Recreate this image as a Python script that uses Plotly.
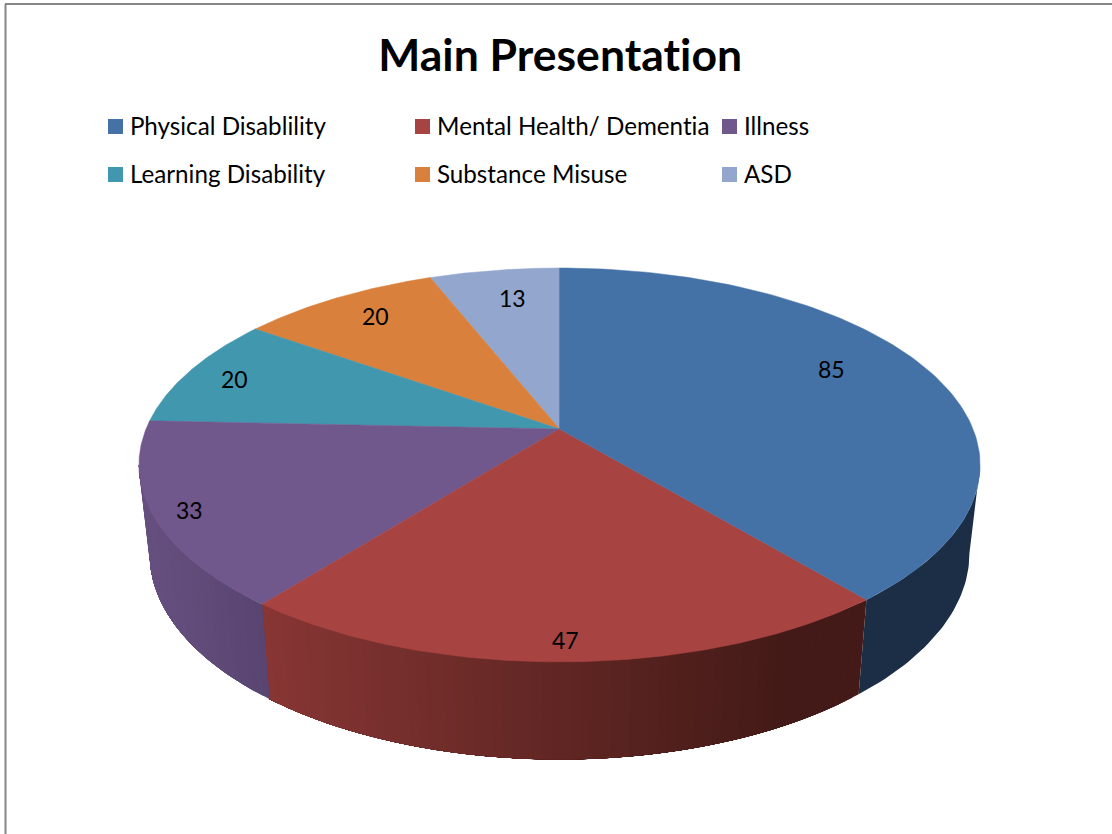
import numpy as np
import plotly.graph_objects as go

# ---- data ----
categories = ["Physical Disablility", "Mental Health/ Dementia", "Illness",
              "Learning Disability", "Substance Misuse", "ASD"]
values = [85, 47, 33, 20, 20, 13]
title_text = "Main Presentation"

# ---- styles ----
top_colors = ["#4471A6", "#A74442", "#70578C", "#4097AE", "#D9813C", "#92A6CE"]
FONT = "Lato"
FRAME = "#868686"

# projection of the tilted disc (pixel space of the 1112x834 page)
CX = 559.5
K = 0.1827
TOP = dict(A=413.5, B=190.4, cy=429.0)
BOT = dict(A=403.0, B=199.0, cy=516.0)
SIL = 100.5  # clockwise angle of the disc silhouette, degrees


def project(theta_deg, disc, r=1.0):
    t = np.radians(theta_deg)
    X, Y = r * np.sin(t), r * np.cos(t)
    d = 1 + K * Y
    return CX + disc["A"] * X / d, disc["cy"] - disc["B"] * Y / d


def mix(c1, c2, f):
    f = min(max(f, 0.0), 1.0)
    a = [int(c1[i:i + 2], 16) for i in (1, 3, 5)]
    b = [int(c2[i:i + 2], 16) for i in (1, 3, 5)]
    return "rgb(%d,%d,%d)" % tuple(round(a[i] + (b[i] - a[i]) * f) for i in range(3))


side_shades = {
    0: lambda x: "#1B2E46",
    1: lambda x: mix("#873634", "#431A17", (x - 270) / 510),
    2: lambda x: mix("#665080", "#594571", (x - 150) / 118),
}


def poly(xs, ys, color, lw=1.0):
    return go.Scatter(x=xs, y=ys, mode="lines", fill="toself", fillcolor=color,
                      line=dict(color=color, width=lw), hoverinfo="skip", showlegend=False)


fig = go.Figure()

edges = np.concatenate([[0], np.cumsum(values)]) / sum(values) * 360.0

# side wall of the disc, only the part facing the viewer.
# Bands are painted in order and each one runs on to the end of its slice,
# so the next band covers it and no seam shows.
for i in side_shades:
    a0 = max(edges[i], SIL)
    a1 = min(edges[i + 1], 360 - SIL)
    if a1 <= a0:
        continue
    n = 1 if i == 0 else max(6, int((a1 - a0) * 0.9))
    steps = np.linspace(a0, a1, n + 1)
    for s0, s1 in zip(steps[:-1], steps[1:]):
        th = np.linspace(s0, a1, 40)
        tx, ty = project(th, TOP)
        bx, by = project(th, BOT)
        xm = float(project((s0 + s1) / 2, BOT)[0])
        fig.add_trace(poly(np.r_[tx, bx[::-1]], np.r_[ty, by[::-1]], side_shades[i](xm), 0))

# top face
for i in [5, 4, 3, 2, 1, 0]:
    th = np.linspace(edges[i], edges[i + 1], 120)
    x, y = project(th, TOP)
    fig.add_trace(poly(np.r_[CX, x, CX], np.r_[TOP["cy"], y, TOP["cy"]], top_colors[i], 0.5))

# legend swatches
swatch_x = [115.5, 422.5, 729.5, 115.5, 422.5, 729.5]
swatch_y = [126.5, 126.5, 126.5, 174.5, 174.5, 174.5]
legend_order = [0, 1, 2, 3, 4, 5]
fig.add_trace(go.Scatter(x=swatch_x, y=swatch_y, mode="markers", hoverinfo="skip", showlegend=False,
                         marker=dict(symbol="square", size=15, color=[top_colors[j] for j in legend_order])))

annotations = []
text_x = [128, 435, 742, 128, 435, 742]
for j, tx_, ty_ in zip(legend_order, text_x, swatch_y):
    annotations.append(dict(x=tx_, y=ty_ - 1.5, text=categories[j], xref="x", yref="y", showarrow=False,
                            xanchor="left", yanchor="middle", font=dict(family=FONT, size=24.2, color="#000000")))

# value labels
label_x = [831, 565, 189, 234, 375, 512]
label_y = [369, 639.5, 510, 379, 316, 298]
for v, lx, ly in zip(values, label_x, label_y):
    annotations.append(dict(x=lx, y=ly, text=str(v), xref="x", yref="y", showarrow=False,
                            xanchor="center", yanchor="middle", font=dict(family=FONT, size=23, color="#000000")))

annotations.append(dict(x=560, y=53, text="<b>%s</b>" % title_text, xref="x", yref="y", showarrow=False,
                        xanchor="center", yanchor="middle", font=dict(family=FONT, size=44.5, color="#000000")))

shapes = [
    dict(type="line", xref="x", yref="y", x0=5.5, x1=5.5, y0=4, y1=834, line=dict(color=FRAME, width=2)),
    dict(type="line", xref="x", yref="y", x0=5, x1=1112, y0=4, y1=4, line=dict(color=FRAME, width=2)),
]

fig.update_layout(
    width=1112, height=834, margin=dict(l=0, r=0, t=0, b=0),
    paper_bgcolor="#FFFFFF", plot_bgcolor="#FFFFFF", showlegend=False,
    xaxis=dict(range=[0, 1112], visible=False, fixedrange=True),
    yaxis=dict(range=[834, 0], visible=False, fixedrange=True),
    annotations=annotations, shapes=shapes,
)

fig.write_html("out.html", config=dict(displayModeBar=False),
               post_script="document.body.style.margin='0';document.body.style.overflow='hidden';"
                           "var s=document.createElement('style');"
                           "s.textContent='svg text{font-variant-ligatures:none;"
                           "font-feature-settings:\"liga\" 0,\"clig\" 0,\"dlig\" 0,\"calt\" 0;letter-spacing:0.01px}';"
                           "document.head.appendChild(s);")
